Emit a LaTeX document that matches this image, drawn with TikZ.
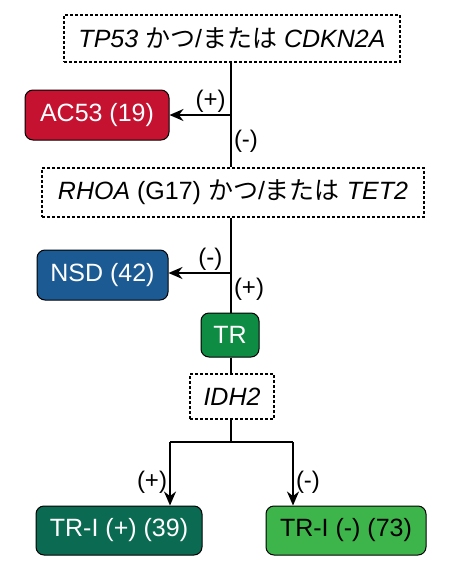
\documentclass[tikz,border=0pt]{standalone}
\usepackage{fontspec}
\setmainfont{Liberation Sans}
\newfontfamily\jpfont{Noto Sans CJK JP}
\usepackage[HTML]{xcolor}
\usepackage{tikz}
\usetikzlibrary{positioning, arrows, arrows.meta}

\definecolor{acred}{HTML}{C41230}
\definecolor{nsdblue}{HTML}{1C5A93}
\definecolor{trgreen}{HTML}{0E8C43}
\definecolor{tripos}{HTML}{0B6B52}
\definecolor{trineg}{HTML}{3DB54A}

\begin{document}
\begin{tikzpicture}[
    x=1pt, y=-1pt,
    every node/.style={font=\fontsize{25}{30}\selectfont}, % one size for all texts
    genebox/.style={draw, dash pattern=on 3pt off 2pt, line width=1.3pt, inner sep=0pt},
    groupbox/.style={draw, line width=1pt, rounded corners=8pt, inner sep=0pt},
    lbl/.style={font=\fontsize{24}{28}\selectfont, inner sep=2pt},
    link/.style={line width=2pt},
    arr/.style={link, -{Stealth[length=14pt, width=12pt]}}
]
    \useasboundingbox (0,0) rectangle (462,571);

    % Define the nodes using (x, y) coordinates
    \node[genebox, minimum width=336pt, minimum height=47pt] (TP) at (232, 38.5)
        {\textit{TP53} {\jpfont かつ}/{\jpfont または} \textit{CDKN2A}};
    % Left of the first branch point
    \node[groupbox, fill=acred, text=white, minimum width=144pt, minimum height=50pt] (AC) at (97, 115)
        {AC53 (19)};
    % Second gene box
    \node[genebox, minimum width=382pt, minimum height=49pt] (RHOA) at (233, 192.5)
        {\textit{RHOA} (G17) {\jpfont かつ}/{\jpfont または} \textit{TET2}};
    % Left of the second branch point
    \node[groupbox, fill=nsdblue, text=white, minimum width=131pt, minimum height=50pt] (NSD) at (102.5, 275)
        {NSD (42)};
    % On the main line
    \node[groupbox, fill=trgreen, text=white, minimum width=58pt, minimum height=44pt] (TR) at (230, 335)
        {TR};
    \node[genebox, minimum width=84pt, minimum height=45pt] (IDH) at (232, 396.5)
        {\itshape IDH2};
    % Bottom row
    \node[groupbox, fill=tripos, text=white, minimum width=166pt, minimum height=49pt] (TRIp) at (119, 530.5)
        {TR-I (+) (39)};
    \node[groupbox, fill=trineg, minimum width=160pt, minimum height=49pt] (TRIn) at (346, 530.5)
        {TR-I (-) (73)};

    % Branch points
    \coordinate (J1) at (231, 115);
    \coordinate (J2) at (231, 273);
    \coordinate (Split) at (231, 442);
    \coordinate (SplitL) at (170, 442);
    \coordinate (SplitR) at (293, 442);

    % 1. TP53 box to RHOA box (main line, label right)
    \draw[link] (TP.south -| J1) -- (RHOA.north -| J1)
        node[lbl, pos=0.75, right] {(-)};

    % 2. Branch to AC53 (label above)
    \draw[arr] (J1) -- (J1 -| AC.east)
        node[lbl, pos=0.33, above] {(+)};

    % 3. RHOA box to TR (main line, label right)
    \draw[link] (RHOA.south -| J2) -- (TR.north -| J2)
        node[lbl, pos=0.76, right] {(+)};

    % 4. Branch to NSD (label above)
    \draw[arr] (J2) -- (J2 -| NSD.east)
        node[lbl, pos=0.33, above] {(-)};

    % 5. TR to IDH2 and down to the split
    \draw[link] (TR.south -| Split) -- (IDH.north -| Split);
    \draw[link] (IDH.south -| Split) -- (Split);
    \draw[link] (SplitL) -- (SplitR);

    % 6. Split to the two bottom boxes
    \draw[arr] (SplitL) -- (SplitL |- TRIp.north)
        node[lbl, pos=0.64, left] {(+)};
    \draw[arr] (SplitR) -- (SplitR |- TRIn.north)
        node[lbl, pos=0.64, right] {(-)};

\end{tikzpicture}
\end{document}
